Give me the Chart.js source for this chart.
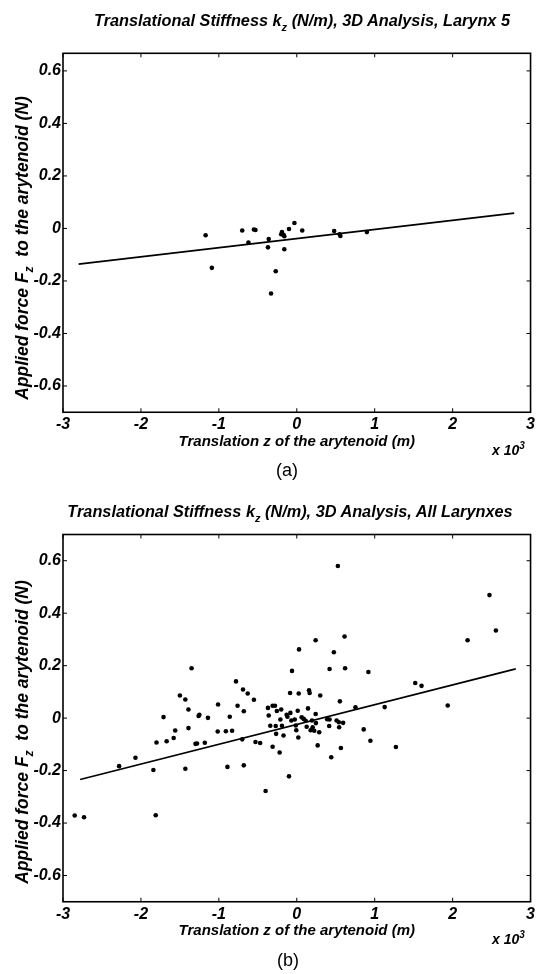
<!DOCTYPE html>
<html>
<head>
<meta charset="utf-8">
<script src="https://cdn.jsdelivr.net/npm/chart.js@4.4.1/dist/chart.umd.min.js"></script>
<style>
  html, body { margin:0; padding:0; background:#fff; }
  body { width:538px; height:974px; position:relative; overflow:hidden; font-family:'Liberation Sans', Arial, sans-serif; color:#000; }
  canvas { position:absolute; left:0; }
  .t { position:absolute; transform:translate(-50%,-50%); white-space:nowrap; font-style:italic; font-weight:bold; font-size:16.3px; line-height:18px; }
  .t sub { font-size:11px; vertical-align:-5px; line-height:0; }
  .yl { position:absolute; transform:translate(-50%,-50%) rotate(-90deg); white-space:nowrap; font-style:italic; font-weight:bold; font-size:17.5px; line-height:18px; }
  .yl sub { font-size:12px; vertical-align:-5px; line-height:0; }
  .ex { position:absolute; transform:translateY(-50%); white-space:nowrap; font-style:italic; font-weight:bold; font-size:14px; }
  .ex sup { font-size:10px; vertical-align:6px; line-height:0; }
  .cap { position:absolute; transform:translate(-50%,-50%); font-size:18px; white-space:nowrap; }
</style>
</head>
<body>
<canvas id="c1" width="538" height="490" style="top:0"></canvas>
<canvas id="c2" width="538" height="484" style="top:490px"></canvas>

<div class="t" style="left:302px;top:20px">Translational Stiffness k<sub>z</sub> (N/m), 3D Analysis, Larynx 5</div>
<div class="yl" style="left:22px;top:248px">Applied force F<sub>z</sub>&nbsp; to the arytenoid (N)</div>
<div class="ex" style="left:492px;top:450px">x 10<sup>3</sup></div>
<div class="cap" style="left:287px;top:470px">(a)</div>

<div class="t" style="left:290px;top:511px">Translational Stiffness k<sub>z</sub> (N/m), 3D Analysis, All Larynxes</div>
<div class="yl" style="left:22px;top:732px">Applied force F<sub>z</sub>&nbsp; to the arytenoid (N)</div>
<div class="ex" style="left:492px;top:939px">x 10<sup>3</sup></div>
<div class="cap" style="left:288px;top:960px">(b)</div>

<script>
// ---- data (translation z in 10^-3 m, force Fz in N) ----
const xTicks = [-3, -2, -1, 0, 1, 2, 3];
const xTickLabels = ['-3', '-2', '-1', '0', '1', '2', '3'];
const yTicks = [-0.6, -0.4, -0.2, 0, 0.2, 0.4, 0.6];
const yTickLabels = ['-0.6', '-0.4', '-0.2', '0', '0.2', '0.4', '0.6'];
const xAxisTitle = 'Translation z of the arytenoid (m)';

// (a) Larynx 5
const zTop = [-1.17, -1.09, -0.70, -0.55, -0.53, -0.62, -0.36, -0.37, -0.27, -0.33,
              -0.19, -0.20, -0.17, -0.16, -0.16, -0.10, -0.03, 0.07, 0.48, 0.55, 0.56, 0.90];
const fTop = [-0.026, -0.150, -0.008, -0.004, -0.006, -0.054, -0.040, -0.072, -0.163, -0.248,
              -0.014, -0.022, -0.024, -0.030, -0.079, -0.002, 0.021, -0.008, -0.010, -0.022, -0.029, -0.014];
const fitZTop = [-2.80, 2.79];
const fitFTop = [-0.136, 0.058];

// (b) All larynxes
const zAll = [-2.85, -2.73, -2.28, -2.07, -1.84, -1.81, -1.80, -1.71, -1.67, -1.58,
              -1.56, -1.50, -1.43, -1.39, -1.39, -1.43, -1.35, -1.30, -1.28, -1.26,
              -1.25, -1.18, -1.14, -1.01, -1.015, -0.91, -0.89, -0.86, -0.83, -0.78,
              -0.76, -0.70, -0.69, -0.68, -0.68, -0.63, -0.55, -0.53, -0.47, -0.40,
              -0.37, -0.36, -0.34, -0.31, -0.28, -0.31, -0.27, -0.265, -0.256, -0.22,
              -0.21, -0.20, -0.19, -0.17, -0.13, -0.10, -0.086, -0.082, -0.061, -0.070,
              -0.026, -0.006, 0.012, 0.020, 0.029, 0.025,
              0.527, 2.473, 2.555, 2.192, 0.242, 0.613, 0.476, 0.421, 0.620, 0.919,
              1.520, 1.601, 0.157, 0.165, 0.301, 0.553, 0.753, 1.128, 1.937, 0.144,
              0.242, 0.089, 0.114, 0.195, 0.246, 0.390, 0.421, 0.511, 0.540, 0.595,
              0.178, 0.204, 0.224, 0.288, 0.416, 0.544, 0.859, 0.268, 0.566, 0.945,
              1.272, 0.442, 0.063, 0.127, -0.013, -0.12];
const fAll = [-0.371, -0.378, -0.183, -0.151, -0.198, -0.370, -0.093, 0.004, -0.088, -0.076,
              -0.047, 0.086, 0.071, 0.033, -0.038, -0.193, 0.190, -0.098, -0.097, 0.008,
              0.013, -0.094, 0.001, 0.052, -0.051, -0.050, -0.186, 0.005, -0.048, 0.140,
              0.047, -0.081, 0.109, 0.026, -0.180, 0.094, 0.070, -0.091, -0.095, -0.278,
              0.039, 0.010, -0.029, 0.047, 0.047, -0.109, -0.030, -0.060, 0.027, -0.131,
              -0.005, 0.033, -0.029, -0.066, 0.013, -0.222, 0.096, 0.020, 0.180, -0.009,
              -0.005, -0.046, 0.028, -0.074, 0.262, 0.094,
              0.580, 0.469, 0.334, 0.297, 0.297, 0.311, 0.251, 0.187, 0.190, 0.176,
              0.134, 0.123, 0.106, 0.096, 0.086, 0.064, 0.041, 0.042, 0.048, 0.037,
              0.016, -0.003, -0.010, -0.009, -0.019, -0.004, -0.005, -0.009, -0.016, -0.018,
              -0.046, -0.035, -0.048, -0.054, -0.030, -0.035, -0.043, -0.104, -0.114, -0.086,
              -0.110, -0.149, 0.003, -0.033, -0.028, 0.005];
const fitZAll = [-2.78, 2.81];
const fitFAll = [-0.234, 0.188];

// ---- chart setup ----
Chart.defaults.font.family = "'Liberation Sans', Arial, sans-serif";
Chart.defaults.color = '#000';

const framePlugin = {
  id: 'frame',
  afterDatasetsDraw(chart) {
    const { ctx, chartArea: a, scales: { x, y } } = chart;
    ctx.save();
    ctx.strokeStyle = '#000';
    ctx.lineWidth = 1.6;
    ctx.strokeRect(a.left, a.top, a.right - a.left, a.bottom - a.top);
    ctx.lineWidth = 1;
    const L = 4;
    ctx.beginPath();
    x.ticks.forEach(t => {
      const p = x.getPixelForValue(t.value);
      ctx.moveTo(p, a.bottom); ctx.lineTo(p, a.bottom - L);
      ctx.moveTo(p, a.top); ctx.lineTo(p, a.top + L);
    });
    y.ticks.forEach(t => {
      const p = y.getPixelForValue(t.value);
      ctx.moveTo(a.left, p); ctx.lineTo(a.left + L, p);
      ctx.moveTo(a.right, p); ctx.lineTo(a.right - L, p);
    });
    ctx.stroke();
    ctx.restore();
  }
};

function makeChart(id, zs, fs, fz, ff, yMax, padTop, padBottom, xScaleH) {
  const pts = zs.map((z, i) => ({ x: z, y: fs[i] }));
  const fit = fz.map((z, i) => ({ x: z, y: ff[i] }));
  const tickFont = { size: 16, weight: 'bold', style: 'italic' };
  return new Chart(document.getElementById(id), {
    type: 'scatter',
    data: {
      datasets: [
        { data: pts, pointRadius: 2.3, pointBackgroundColor: '#000', pointBorderWidth: 0, showLine: false },
        { type: 'line', data: fit, borderColor: '#000', borderWidth: 1.7, pointRadius: 0, fill: false, tension: 0 }
      ]
    },
    options: {
      responsive: false,
      animation: false,
      events: [],
      layout: { padding: { top: padTop, right: 5.5, bottom: padBottom, left: 0 } },
      plugins: { legend: { display: false }, tooltip: { enabled: false }, title: { display: false } },
      scales: {
        x: {
          type: 'linear', min: -3, max: 3,
          afterBuildTicks: s => { s.ticks = xTicks.map(v => ({ value: v })); },
          afterFit: s => { s.height = xScaleH; },
          grid: { display: false, drawTicks: false }, border: { display: false },
          ticks: { font: tickFont, padding: 3, maxRotation: 0, autoSkip: false,
                   callback: v => xTickLabels[xTicks.indexOf(v)] },
          title: { display: true, text: xAxisTitle, padding: 0,
                   font: { size: 15, weight: 'bold', style: 'italic' } }
        },
        y: {
          type: 'linear', min: -0.7, max: yMax,
          afterBuildTicks: s => { s.ticks = yTicks.map(v => ({ value: v })); },
          afterFit: s => { s.width = 63; },
          grid: { display: false, drawTicks: false }, border: { display: false },
          ticks: { font: tickFont, padding: 2, autoSkip: false,
                   callback: v => { const i = yTicks.findIndex(t => Math.abs(t - v) < 1e-9); return i >= 0 ? yTickLabels[i] : ''; } }
        }
      }
    },
    plugins: [framePlugin]
  });
}

// top: frame 53.3..412.25 ; x-title centre 441.7
makeChart('c1', zTop, fTop, fitZTop, fitFTop, 0.667, 53.3, 490 - 450.7, 450.7 - 412.25);
// bottom (offset 490): frame 44.5..411.75 ; x-title centre ~440.5
makeChart('c2', zAll, fAll, fitZAll, fitFAll, 0.7, 44.5, 484 - 449.5, 449.5 - 411.75);
</script>
</body>
</html>
